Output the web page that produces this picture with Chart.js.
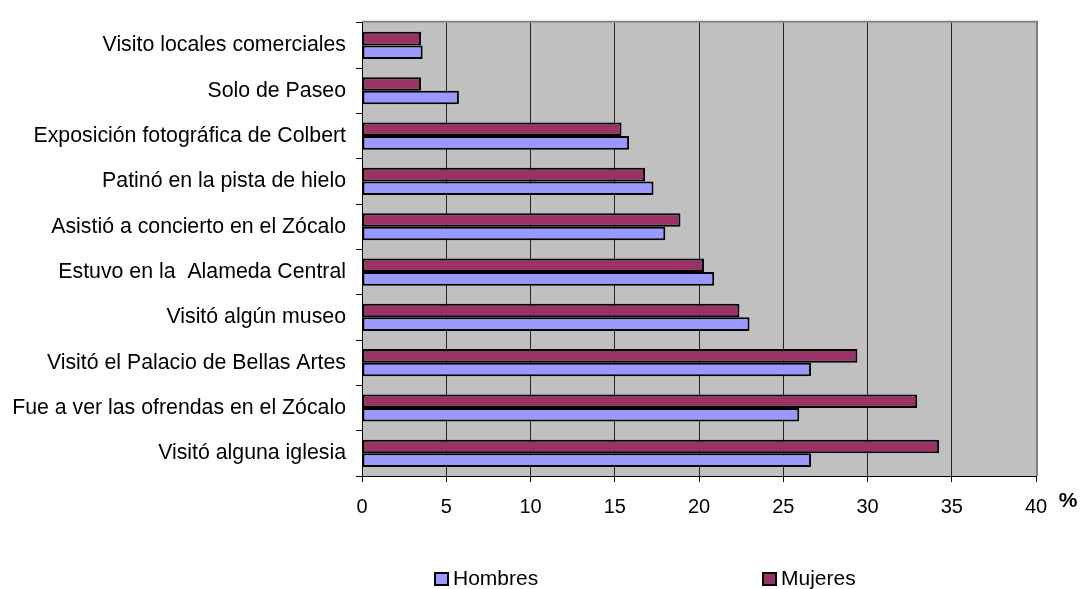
<!DOCTYPE html>
<html>
<head>
<meta charset="utf-8">
<script src="https://cdn.jsdelivr.net/npm/chart.js@4/dist/chart.umd.min.js"></script>
<style>
  body { margin: 0; background: #fff; }
  #wrap { width: 1083px; height: 589px; }
</style>
</head>
<body>
<div id="wrap"><canvas id="myChart"></canvas></div>
<script>
// categories, top to bottom
var categories = [
    'Visito locales comerciales',
    'Solo de Paseo',
    'Exposición fotográfica de Colbert',
    'Patinó en la pista de hielo',
    'Asistió a concierto en el Zócalo',
    'Estuvo en la  Alameda Central',
    'Visitó algún museo',
    'Visitó el Palacio de Bellas Artes',
    'Fue a ver las ofrendas en el Zócalo',
    'Visitó alguna iglesia'
];
var hombres = [3.6, 5.75, 15.85, 17.3, 18.0, 20.9, 23.0, 26.65, 25.95, 26.65];
var mujeres = [3.5, 3.5, 15.4, 16.8, 18.9, 20.3, 22.4, 29.4, 32.95, 34.25];
var xTicks = [0, 5, 10, 15, 20, 25, 30, 35, 40];

var font = 'Liberation Sans, Arial, sans-serif';

// gray plot area with the gray frame on top and right, like Excel
var plotBg = {
    id: 'plotBg',
    beforeDraw: function(chart) {
        var a = chart.chartArea, ctx = chart.ctx;
        ctx.save();
        ctx.fillStyle = '#c0c0c0';
        ctx.fillRect(a.left, a.top, a.right - a.left, a.bottom - a.top);
        ctx.strokeStyle = '#808080';
        ctx.lineWidth = 2;
        ctx.beginPath();
        ctx.moveTo(a.left, a.top - 1);
        ctx.lineTo(a.right + 1, a.top - 1);
        ctx.lineTo(a.right + 1, a.bottom);
        ctx.stroke();
        ctx.restore();
    }
};

// the "%" unit after the last tick and the spread out legend
var extras = {
    id: 'extras',
    afterDraw: function(chart) {
        var ctx = chart.ctx, x = chart.scales.x;
        ctx.save();
        ctx.fillStyle = '#000';
        ctx.font = 'bold 21px ' + font;
        ctx.textAlign = 'center';
        ctx.textBaseline = 'middle';
        ctx.fillText('%', x.right + 32, x.top + 25);

        var items = [chart.data.datasets[1], chart.data.datasets[0]];
        var xs = [434, 762];
        ctx.font = '21px ' + font;
        ctx.textAlign = 'left';
        items.forEach(function(ds, i) {
            ctx.fillStyle = ds.backgroundColor;
            ctx.fillRect(xs[i], 572, 15, 14);
            ctx.strokeStyle = '#000';
            ctx.lineWidth = 2;
            ctx.strokeRect(xs[i] + 1, 573, 13, 12);
            ctx.fillStyle = '#000';
            ctx.fillText(ds.label, xs[i] + 19, 579);
        });
        ctx.restore();
    }
};

var ctx = document.getElementById('myChart');
var myChart = new Chart(ctx, {
    type: 'bar',
    data: {
        labels: categories,
        datasets: [{
            label: 'Mujeres',
            data: mujeres,
            backgroundColor: '#993366',
            borderColor: '#000',
            borderWidth: 2,
            borderSkipped: false
        }, {
            label: 'Hombres',
            data: hombres,
            backgroundColor: '#9999ff',
            borderColor: '#000',
            borderWidth: 2,
            borderSkipped: false
        }]
    },
    options: {
        indexAxis: 'y',
        responsive: true,
        maintainAspectRatio: false,
        animation: false,
        categoryPercentage: 0.6,
        barPercentage: 1,
        layout: { padding: { top: 16, right: 47, bottom: 57, left: 0 } },
        plugins: {
            legend: { display: false },
            tooltip: { enabled: false }
        },
        scales: {
            x: {
                min: 0,
                max: 40,
                afterBuildTicks: function(scale) {
                    scale.ticks = xTicks.map(function(v) { return { value: v }; });
                },
                grid: {
                    color: function(c) { return c.tick && c.tick.value === 40 ? 'rgba(0,0,0,0)' : '#222'; },
                    tickColor: '#000',
                    tickLength: 6,
                    lineWidth: 1
                },
                border: { color: '#000', width: 1 },
                ticks: { color: '#000', padding: 13, font: { family: font, size: 20 } }
            },
            y: {
                afterFit: function(scale) { scale.width = 362; },
                grid: {
                    drawOnChartArea: false,
                    color: '#000',
                    tickLength: 6
                },
                border: { color: '#000', width: 1 },
                ticks: { color: '#000', padding: 10, font: { family: font, size: 21.3 } }
            }
        }
    },
    plugins: [plotBg, extras]
});
</script>
</body>
</html>
